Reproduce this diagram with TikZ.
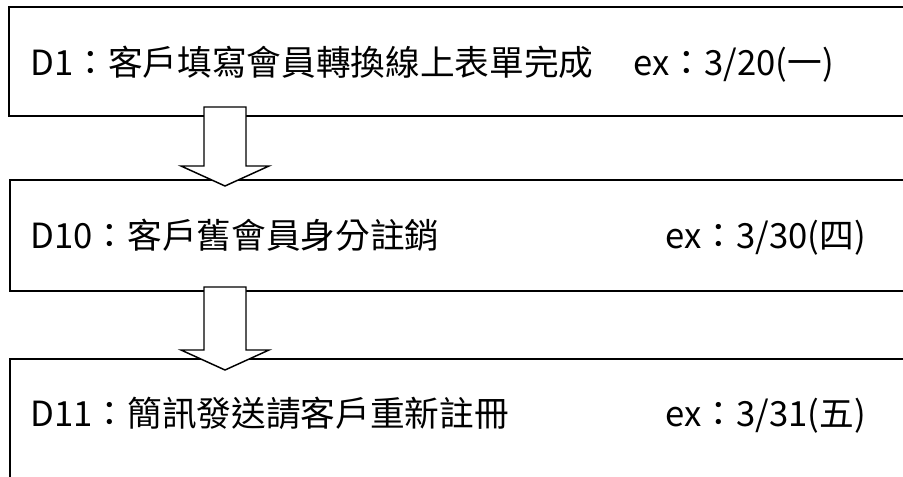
\documentclass[tikz,border=0pt]{standalone}
\usepackage{fontspec}
\setmainfont{Noto Sans CJK TC}
\usetikzlibrary{calc}

\tikzset{every picture/.style={line width=0.75pt}}
\tikzset{
  stepbox/.style={draw, line width=1.5pt, anchor=north west, inner sep=0pt, minimum width=676.5pt},
  steptext/.style={anchor=base west, inner sep=0pt, font=\fontsize{26}{30}\selectfont},
  arrowbody/.style={draw, fill=white, line width=1.1pt, line join=miter}
}

% hollow block arrow from shaft top (#1) to tip (#2)
\newcommand{\blockarrow}[2]{%
  \draw[arrowbody] ($(#1)+(-21,0)$) -- ($(#1)+(21,0)$) -- ($(#2)+(21,-20)$) -- ($(#2)+(44,-20)$)
    -- (#2) -- ($(#2)+(-44,-20)$) -- ($(#2)+(-21,-20)$) -- cycle;}

\begin{document}
\begin{tikzpicture}[x=0.75pt,y=0.75pt,yscale=-1,xscale=1]
		\useasboundingbox (0,0) rectangle (903,476);

		% steps
		\node [stepbox, minimum height=81.75pt] (d1) at (8,6) {};
		\node [stepbox, minimum height=83.25pt] (d10) at (9,179) {};
		\node [stepbox, minimum height=105pt] (d11) at (9,358) {};

		% arrows between the steps
		\coordinate (a1top) at (225,107);
		\coordinate (a1tip) at (225,186);
		\coordinate (a2top) at (225,287);
		\coordinate (a2tip) at (225,370);
		\blockarrow{a1top}{a1tip}
		\blockarrow{a2top}{a2tip}

		% texts
		\node [steptext] (t1) at (30,75) {D1：客戶填寫會員轉換線上表單完成};
		\node [steptext] (e1) at (633,75) {ex：3/20(一)};
		\node [steptext] (t10) at (30,248) {D10：客戶舊會員身分註銷};
		\node [steptext] (e10) at (665,248) {ex：3/30(四)};
		\node [steptext] (t11) at (30,426) {D11：簡訊發送請客戶重新註冊};
		\node [steptext] (e11) at (665,426) {ex：3/31(五)};

\end{tikzpicture}
\end{document}
